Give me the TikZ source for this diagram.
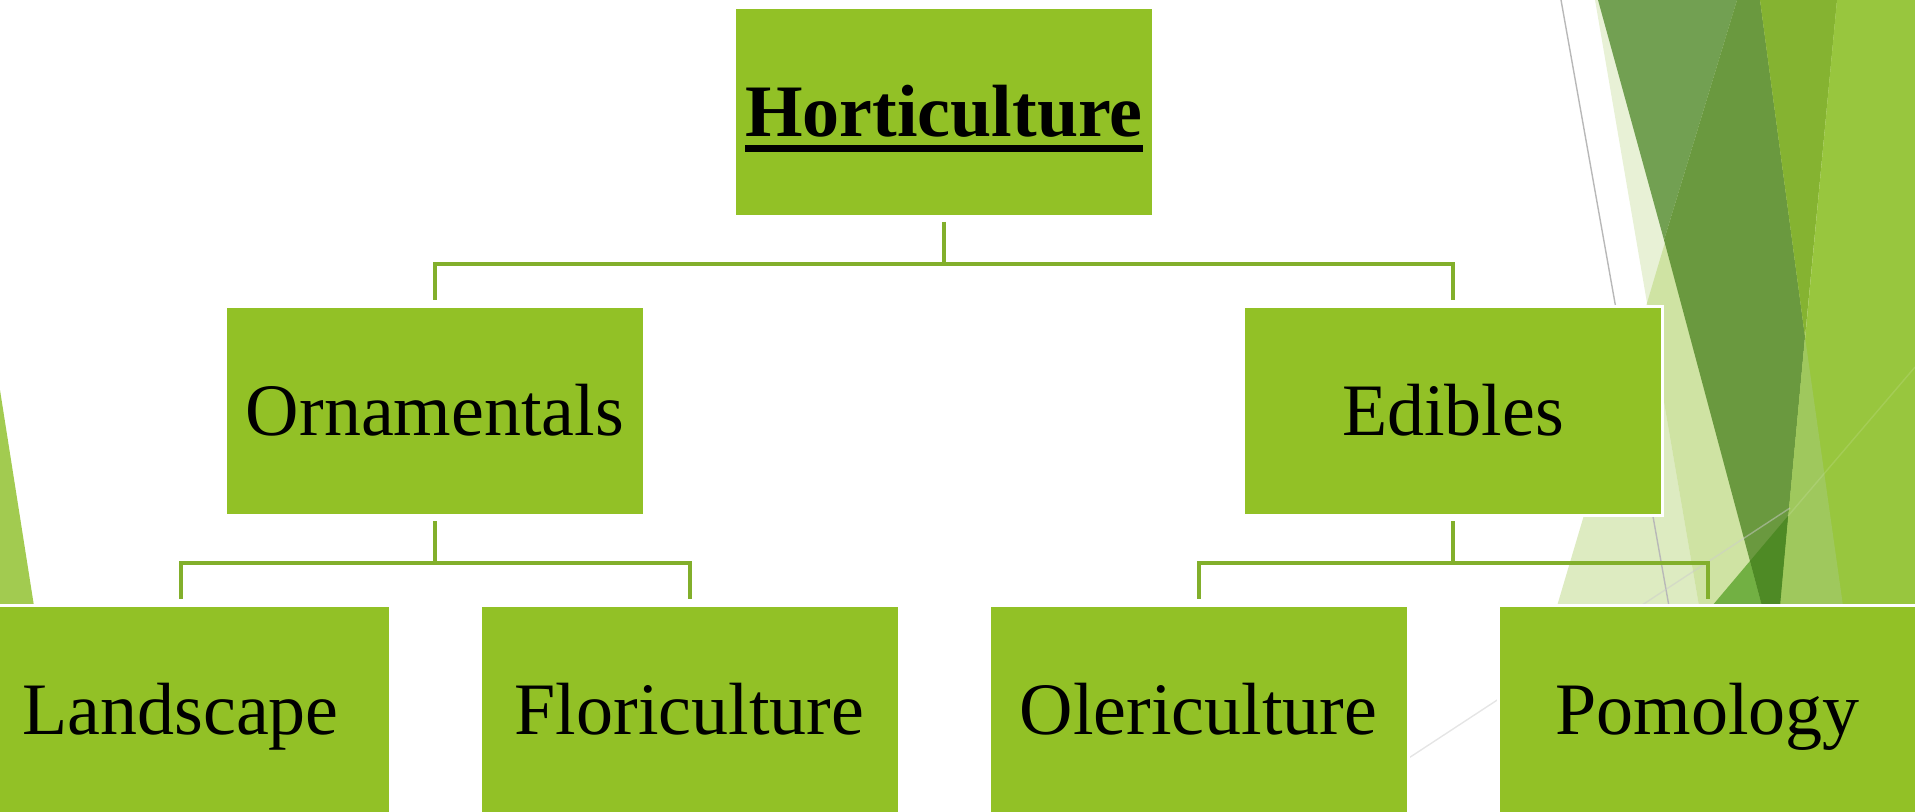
\documentclass[tikz,border=0pt]{standalone}
\usepackage{fontspec}
\setmainfont{Liberation Serif}
\usetikzlibrary{trees}

\definecolor{boxgreen}{HTML}{92C126}
\definecolor{linkgreen}{HTML}{82AF2B}
\definecolor{facetpale}{HTML}{E8F1D6}
\definecolor{facetlight}{HTML}{DDEBC1}
\definecolor{facetmix}{HTML}{CFE3A3}
\definecolor{facetmoss}{HTML}{72A052}
\definecolor{facetdark}{HTML}{6A993F}
\definecolor{facetdeep}{HTML}{4E8A25}
\definecolor{facetgrass}{HTML}{72B043}
\definecolor{facetolive}{HTML}{85B331}
\definecolor{facetlime}{HTML}{98C63E}
\definecolor{facetsoft}{HTML}{9FC85D}
\definecolor{facetleft}{HTML}{A2CB50}

\newcommand{\thickuline}[1]{\setbox0=\hbox{#1}\rlap{\vrule height -4.5pt depth 8pt width \wd0}\box0}

\begin{document}
\begin{tikzpicture}[x=0.5pt, y=-0.5pt,
  level distance=149.5pt,
  level 1/.style={sibling distance=509pt},
  level 2/.style={sibling distance=254.5pt},
  topic/.style={rectangle, fill=boxgreen, draw=white, line width=1.5pt,
    minimum width=209.5pt, minimum height=104.5pt, inner sep=0pt,
    text height=24.5pt, text depth=0pt, font=\fontsize{37}{44}\selectfont},
  every child node/.style={topic},
  edge from parent/.style={draw=linkgreen, line width=2pt},
  edge from parent path={([yshift=-2pt]\tikzparentnode.south) -- ++(0,-21pt)
    -| ([yshift=2.5pt]\tikzchildnode.north)}]
  \useasboundingbox (0,0) rectangle (1915,812);
  \clip (0,0) rectangle (1915,812);

  % facets
  \fill[facetleft] (0,390) -- (34,606) -- (0,606) -- cycle;
  \fill[facetlight] (1737,0) -- (1915,0) -- (1915,606) -- (1557,606) -- cycle;
  \fill[facetpale] (1595,0) -- (1915,0) -- (1915,606) -- (1699,606) -- cycle;
  \fill[facetmix] (1737,0) -- (1915,0) -- (1915,606) -- (1699,606) -- (1647,303) -- cycle;
  \fill[facetmoss] (1598,0) -- (1737,0) -- (1664,240) -- cycle;
  \fill[facetdark] (1737,0) -- (1760,0) -- (1805,337) -- (1780,606) -- (1762,606) -- (1664,240) -- cycle;
  \fill[facetolive] (1760,0) -- (1837,0) -- (1805,337) -- cycle;
  \fill[facetlime] (1837,0) -- (1915,0) -- (1915,606) -- (1780,606) -- cycle;
  \fill[facetsoft] (1805,337) -- (1843,606) -- (1780,606) -- cycle;
  \fill[facetgrass] (1712,606) -- (1750,561) -- (1762,606) -- cycle;
  \fill[facetdeep] (1750,561) -- (1788,516) -- (1780,606) -- (1762,606) -- cycle;
  \draw[white, opacity=0.12, line width=0.7pt] (1788,516) -- (1915,367);
  \draw[black!28, line width=0.7pt] (1561,0) -- (1670,612);
  \draw[black!20, opacity=0.5, line width=0.7pt] (1392,769) -- (1790,508);

  \node[topic] (horti) at (944,112) {\thickuline{\textbf{Horticulture}}}
    child {node (orna) {Ornamentals}
      child {node (land) {Landscape}}
      child {node (flori) {Floriculture}}
    }
    child {node (edib) {Edibles}
      child {node (oleri) {Olericulture}}
      child {node (pomo) {Pomology}}
    };
\end{tikzpicture}
\end{document}
